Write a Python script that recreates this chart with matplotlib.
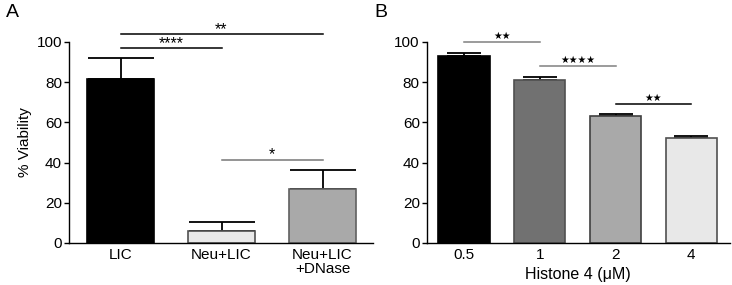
import matplotlib.pyplot as plt

plt.rcParams["font.family"] = ["Liberation Sans", "DejaVu Sans"]

# Panel A
a_labels = ["LIC", "Neu+LIC", "Neu+LIC\n+DNase"]
a_means = [81.7, 6.2, 26.8]
a_err = [10.2, 4.2, 9.4]
a_colors = ["#000000", "#e8e8e8", "#a9a9a9"]
a_edges = ["#000000", "#505050", "#606060"]
# (left bar, right bar, height, stars, line colour)
a_sig = [(0, 1, 96.8, "****", "#000000"),
         (0, 2, 103.8, "**", "#000000"),
         (1, 2, 41.4, "*", "#777777")]

# Panel B
b_labels = ["0.5", "1", "2", "4"]
b_means = [92.9, 81.1, 63.4, 52.2]
b_err = [1.6, 1.3, 0.6, 1.2]
b_colors = ["#000000", "#717171", "#a9a9a9", "#e8e8e8"]
b_edges = ["#000000", "#505050", "#404040", "#505050"]
b_sig = [(0, 1, 99.8, "★★", "#808080"),
         (1, 2, 88.0, "★★★★", "#808080"),
         (2, 3, 69.0, "★★", "#000000")]

fig = plt.figure(figsize=(7.32, 2.85), dpi=100)
axA = fig.add_axes([69 / 732, 0.1474, 304 / 732, 0.7053])
axB = fig.add_axes([426.7 / 732, 0.1474, 303.3 / 732, 0.7053])


def draw_panel(ax, labels, means, err, colors, edges, sig, width, capsize, star_size, star_dy):
    x = list(range(len(means)))
    ax.bar(x, means, width=width, color=colors, edgecolor=edges, linewidth=1.2, zorder=2)
    ax.errorbar(x, means, yerr=[[0] * len(err), err], fmt="none", ecolor="#000000",
                elinewidth=1.3, capsize=capsize, capthick=1.3, zorder=1)
    for i, j, h, stars, col in sig:
        ax.plot([i, j], [h, h], color=col, linewidth=1.1, clip_on=False)
        ax.annotate(stars, xy=((i + j) / 2, h), xytext=(0, star_dy), textcoords="offset points",
                    ha="center", va="bottom", fontsize=star_size, color="#000000",
                    annotation_clip=False)
    ax.set_ylim(0, 100)
    ax.set_yticks([0, 20, 40, 60, 80, 100])
    ax.set_xticks(x)
    ax.set_xticklabels(labels, fontsize=11, linespacing=1.0)
    ax.tick_params(axis="x", length=0, pad=3.5)
    ax.tick_params(axis="y", length=3.5, width=1.0, labelsize=11, pad=1.5)
    for s in ("top", "right"):
        ax.spines[s].set_visible(False)
    for s in ("left", "bottom"):
        ax.spines[s].set_linewidth(1.0)


draw_panel(axA, a_labels, a_means, a_err, a_colors, a_edges, a_sig, 0.66, 24, 11.5, -2)
axA.set_xlim(-0.51, 2.5)
axA.set_ylabel("% Viability", fontsize=11, labelpad=3)

draw_panel(axB, b_labels, b_means, b_err, b_colors, b_edges, b_sig, 0.68, 12, 7, 1)
axB.set_xlim(-0.49, 3.51)
axB.set_xlabel("Histone 4 (μM)", fontsize=11.5, labelpad=4)

fig.text(0.008, 0.985, "A", fontsize=14, va="top", ha="left")
fig.text(0.512, 0.985, "B", fontsize=14, va="top", ha="left")

fig.savefig("out.png", dpi=100)
